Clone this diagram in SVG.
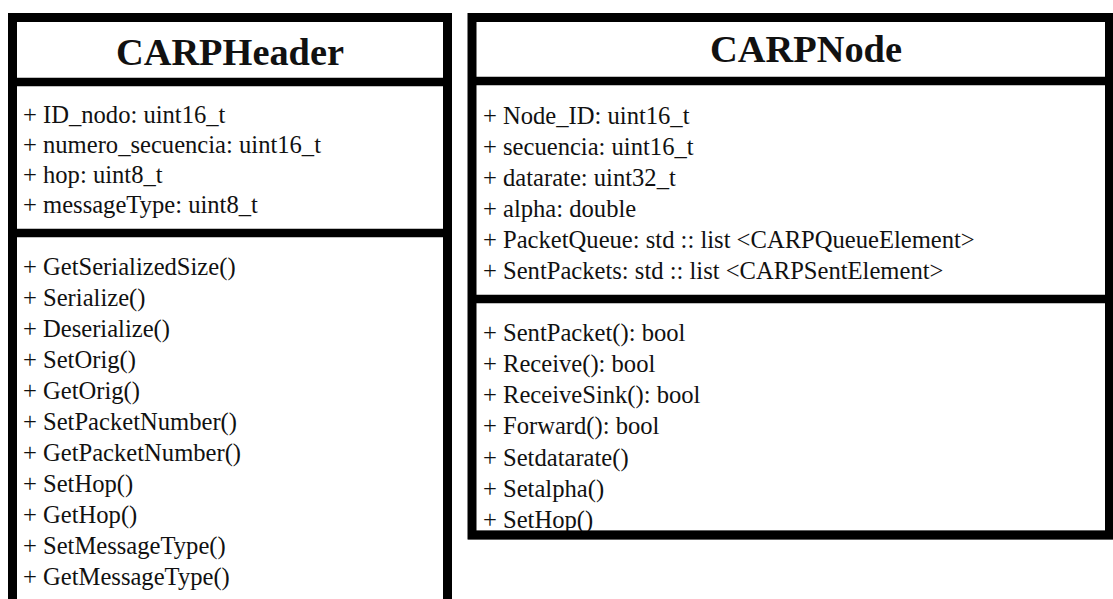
<svg xmlns="http://www.w3.org/2000/svg" width="1113" height="599" viewBox="0 0 1113 599">
  <style>
    .box { fill: #ffffff; stroke: #000000; stroke-width: 9; }
    .sep { stroke: #000000; stroke-width: 8.5; }
    .title { font-family: "Liberation Serif", "Times New Roman", serif; font-weight: bold; font-size: 37px; fill: #111111; text-anchor: middle; }
    .item { font-family: "Liberation Serif", "Times New Roman", serif; font-size: 24.6px; fill: #111111; }
  </style>
  <rect x="0" y="0" width="1113" height="599" fill="#ffffff"/>
  <g id="carpheader">
    <rect class="box" x="12.5" y="17.5" width="435" height="600"/>
    <line class="sep" x1="8" y1="82" x2="452" y2="82"/>
    <line class="sep" x1="8" y1="233" x2="452" y2="233"/>
    <text class="title" x="230" y="65" textLength="228" lengthAdjust="spacingAndGlyphs">CARPHeader</text>
    <g class="item">
      <text x="23" y="123">+ ID_nodo: uint16_t</text>
      <text x="23" y="153">+ numero_secuencia: uint16_t</text>
      <text x="23" y="183">+ hop: uint8_t</text>
      <text x="23" y="213">+ messageType: uint8_t</text>
      <text x="23" y="275">+ GetSerializedSize()</text>
      <text x="23" y="306">+ Serialize()</text>
      <text x="23" y="337">+ Deserialize()</text>
      <text x="23" y="368">+ SetOrig()</text>
      <text x="23" y="399">+ GetOrig()</text>
      <text x="23" y="430">+ SetPacketNumber()</text>
      <text x="23" y="461">+ GetPacketNumber()</text>
      <text x="23" y="492">+ SetHop()</text>
      <text x="23" y="523">+ GetHop()</text>
      <text x="23" y="554">+ SetMessageType()</text>
      <text x="23" y="585">+ GetMessageType()</text>
    </g>
  </g>
  <g id="carpnode">
    <rect class="box" x="472" y="17.5" width="637.5" height="517.5"/>
    <line class="sep" x1="468" y1="81" x2="1113" y2="81"/>
    <line class="sep" x1="468" y1="299" x2="1113" y2="299"/>
    <text class="title" x="806" y="62" textLength="192" lengthAdjust="spacingAndGlyphs">CARPNode</text>
    <g class="item">
      <text x="483" y="124">+ Node_ID: uint16_t</text>
      <text x="483" y="155">+ secuencia: uint16_t</text>
      <text x="483" y="186">+ datarate: uint32_t</text>
      <text x="483" y="217">+ alpha: double</text>
      <text x="483" y="248">+ PacketQueue: std :: list &lt;CARPQueueElement&gt;</text>
      <text x="483" y="279">+ SentPackets: std :: list &lt;CARPSentElement&gt;</text>
      <text x="483" y="341">+ SentPacket(): bool</text>
      <text x="483" y="372">+ Receive(): bool</text>
      <text x="483" y="403">+ ReceiveSink(): bool</text>
      <text x="483" y="434">+ Forward(): bool</text>
      <text x="483" y="466">+ Setdatarate()</text>
      <text x="483" y="497">+ Setalpha()</text>
      <text x="483" y="528">+ SetHop()</text>
    </g>
    <line class="sep" x1="468" y1="535" x2="1113" y2="535"/>
  </g>
</svg>
